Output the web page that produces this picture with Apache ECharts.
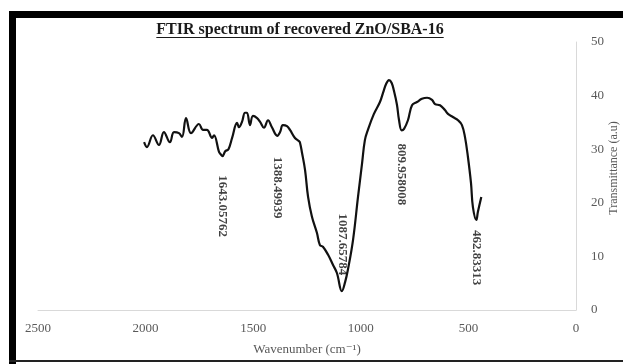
<!DOCTYPE html>
<html>
<head>
<meta charset="utf-8">
<script src="https://cdn.jsdelivr.net/npm/echarts@6/dist/echarts.min.js"></script>
<style>
  html, body { margin: 0; padding: 0; background: #fff; }
  #chart { width: 623px; height: 364px; }
</style>
</head>
<body>
<div id="chart"></div>
<script>
// FTIR spectrum: wavenumber (cm-1) vs transmittance (a.u)
const wavenumbers = [
  2007, 1994, 1966, 1938, 1915, 1887, 1868, 1845, 1831, 1812, 1789, 1752, 1733, 1715,
  1691, 1682, 1659, 1650, 1643, 1630, 1615, 1598, 1575, 1566, 1552, 1538, 1529, 1515,
  1501, 1482, 1468, 1450, 1431, 1413, 1388, 1375, 1362, 1343, 1329, 1306, 1287, 1283,
  1273, 1259, 1245, 1227, 1204, 1190, 1176, 1152, 1129, 1111, 1088, 1073, 1060, 1036,
  1013, 994, 981, 967, 940, 911, 896, 882, 869, 857, 846, 832, 823, 810, 799, 781, 762,
  739, 716, 692, 669, 655, 632, 609, 595, 572, 548, 530, 516, 502, 488, 479, 463, 456, 440
];
const transmittance = [
  31.3, 30.4, 32.6, 30.8, 33.2, 31.3, 33.2, 33.0, 32.3, 35.8, 33.0, 34.7, 33.6, 33.6,
  32.1, 32.6, 29.5, 29.0, 28.7, 29.6, 30.0, 32.1, 34.9, 34.1, 35.1, 36.8, 36.8, 34.5,
  36.2, 35.8, 35.1, 34.0, 35.4, 34.1, 32.5, 33.2, 34.5, 34.3, 33.6, 32.1, 31.5, 31.3,
  29.3, 26.1, 21.1, 17.4, 14.4, 12.1, 11.8, 10.3, 8.4, 6.9, 3.5, 5.2, 7.5, 13.1,
  21.1, 27.4, 31.7, 33.6, 36.5, 38.8, 40.6, 42.2, 42.9, 42.4, 40.9, 38.3, 35.6, 33.5,
  33.8, 35.4, 38.2, 38.8, 39.4, 39.6, 39.2, 38.4, 38.2, 37.3, 36.6, 36.0, 35.4, 34.5,
  32.3, 28.5, 23.7, 19.2, 16.8, 18.3, 21.1
];

// Annotated band positions and their transmittance on the curve
const peakWavenumbers = [1643.05762, 1388.49939, 1087.65784, 809.958008, 462.83313];
const peakValues = [28.7, 32.5, 3.5, 33.5, 16.8];

const xTickMin = 0, xTickMax = 2500, xTickStep = 500;
const yTickMin = 0, yTickMax = 50, yTickStep = 10;

const titleText = 'FTIR spectrum of recovered ZnO/SBA-16';
const xAxisTitle = 'Wavenumber (cm\u207B\u00B9)';
const yAxisTitle = 'Transmittance (a.u)';

const serif = '"Liberation Serif", "DejaVu Serif", serif';
const titleFont = 'bold 16px ' + serif;

// label placement per band: above/below the point and the gap in px
const labelAbove = [false, false, true, false, false];
const labelGap = [19, 21, 16, 13, 10];

const curve = wavenumbers.map((w, i) => [w, transmittance[i]]);
const peakItems = peakWavenumbers.map((w, i) => ({
  value: [w, peakValues[i]],
  label: {
    position: labelAbove[i] ? 'top' : 'bottom',
    align: labelAbove[i] ? 'right' : 'left',
    verticalAlign: 'middle',
    distance: labelGap[i]
  }
}));

// measure title so the underline spans it
const ctx = document.createElement('canvas').getContext('2d');
ctx.font = titleFont;
const titleWidth = ctx.measureText(titleText).width;
const titleCx = 300, titleCy = 30;

const chart = echarts.init(document.getElementById('chart'), null, { renderer: 'canvas' });
chart.setOption({
  animation: false,
  backgroundColor: '#ffffff',
  grid: { left: 38, right: 47, top: 42, bottom: 54, containLabel: false, outerBoundsMode: 'none' },
  xAxis: {
    type: 'value',
    inverse: true,
    min: xTickMin, max: xTickMax, interval: xTickStep,
    axisLine: { show: true, lineStyle: { color: '#d9d9d9', width: 1 } },
    axisTick: { show: false },
    splitLine: { show: false },
    axisLabel: { color: '#595959', fontFamily: serif, fontSize: 13, margin: 12, formatter: v => String(v) },
    name: xAxisTitle,
    nameLocation: 'middle',
    nameGap: 33,
    nameTextStyle: { color: '#595959', fontFamily: serif, fontSize: 13 }
  },
  yAxis: {
    type: 'value',
    position: 'right',
    min: yTickMin, max: yTickMax, interval: yTickStep,
    axisLine: { show: true, lineStyle: { color: '#d9d9d9', width: 1 } },
    axisTick: { show: false },
    splitLine: { show: false },
    axisLabel: { color: '#595959', fontFamily: serif, fontSize: 13, margin: 15, formatter: v => String(v) }
  },
  series: [
    {
      type: 'line',
      data: curve,
      smooth: 0.4,
      symbol: 'none',
      lineStyle: { color: '#111111', width: 2.2 },
      z: 3
    },
    {
      type: 'scatter',
      data: peakItems,
      symbolSize: 0.01,
      silent: true,
      z: 4,
      label: {
        show: true,
        rotate: -90,
        color: '#111111',
        fontFamily: serif,
        fontWeight: 'bold',
        fontSize: 13,
        formatter: p => String(p.value[0])
      }
    }
  ],
  graphic: [
    // frame
    { type: 'rect', shape: { x: 9, y: 11, width: 7, height: 353 }, style: { fill: '#000' }, silent: true },
    { type: 'rect', shape: { x: 9, y: 11, width: 614, height: 7 }, style: { fill: '#000' }, silent: true },
    { type: 'rect', shape: { x: 9, y: 360, width: 614, height: 2 }, style: { fill: '#222' }, silent: true },
    // title with underline
    {
      type: 'text', x: titleCx, y: titleCy,
      style: { text: titleText, font: titleFont, fill: '#1a1a1a', align: 'center', verticalAlign: 'middle' },
      silent: true
    },
    {
      type: 'rect',
      shape: { x: titleCx - titleWidth / 2, y: titleCy + 7, width: titleWidth, height: 1 },
      style: { fill: '#1a1a1a' }, silent: true
    },
    // y axis title, reading upward beside the tick labels
    {
      type: 'text', x: 614, y: 168, rotation: Math.PI / 2,
      style: { text: yAxisTitle, font: '12px ' + serif, fill: '#595959', align: 'center', verticalAlign: 'middle' },
      silent: true
    }
  ]
});
</script>
</body>
</html>
